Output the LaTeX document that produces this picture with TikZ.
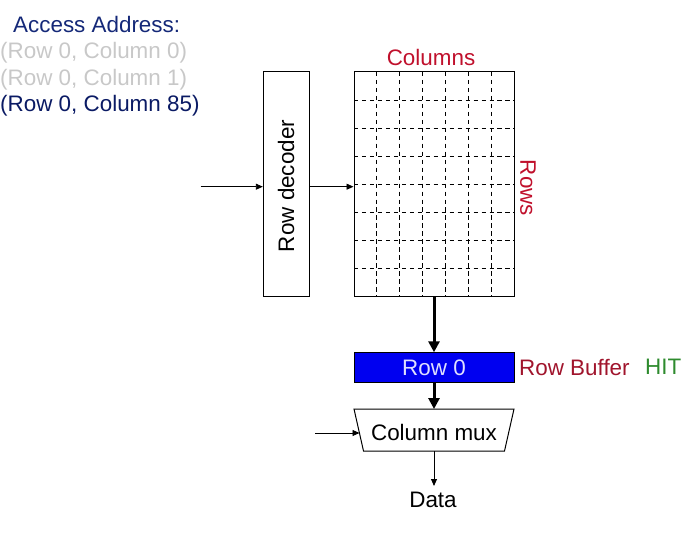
\documentclass[tikz,border=0pt]{standalone}
\usepackage{fontspec}
\setmainfont{Liberation Sans}
\usetikzlibrary{arrows.meta}
\definecolor{navy}{HTML}{142878}
\definecolor{navyd}{HTML}{0A1A64}
\definecolor{greyt}{HTML}{C8C8C8}
\definecolor{redt}{HTML}{C0102C}
\definecolor{redd}{HTML}{A0142C}
\definecolor{greent}{HTML}{2E8B2E}
\definecolor{bufblue}{HTML}{0000F0}
\tikzset{
  lbl/.style={inner sep=0pt, font=\fontsize{22.5}{26}\selectfont},
  box/.style={draw=black, line width=1pt, inner sep=0pt},
  thin/.style={-{Triangle[length=7pt,width=6pt]}, line width=0.9pt},
  thick/.style={-{Triangle[length=11pt,width=11pt]}, line width=3pt},
  griddash/.style={line width=0.9pt, dash pattern=on 4.5pt off 3.5pt},
}
\begin{document}
\begin{tikzpicture}[x=1bp,y=-1bp]
\useasboundingbox (0,0) rectangle (700,533);
% address text
\node[lbl, text=navy, anchor=base west] (t0) at (13,32.5) {Access Address:};
\node[lbl, text=greyt, anchor=base west] (t1) at (0,59) {(Row 0, Column 0)};
\node[lbl, text=greyt, anchor=base west] (t2) at (0,85.5) {(Row 0, Column 1)};
\node[lbl, text=navyd, anchor=base west] (t3) at (0,111.5) {(Row 0, Column 85)};
% row decoder
\node[box, minimum width=46bp, minimum height=224bp] (dec) at (286.3,184) {};
\node[lbl, rotate=90] (dect) at (286,186) {Row decoder};
% grid
\node[box, minimum width=160bp, minimum height=224bp] (grid) at (434,184) {};
\foreach \k in {1,...,6} {
  \draw[griddash] (354+160*\k/7,72) -- (354+160*\k/7,296);
}
\foreach \k in {1,...,7} {
  \draw[griddash] (354,72+224*\k/8) -- (514,72+224*\k/8);
}
\node[lbl, text=redt] (cols) at (431,57) {Columns};
\node[lbl, text=redt, rotate=-90] (rows) at (528,188) {Rows};
% input arrows
\coordinate (in1) at (200.5,186.7);
\draw[thin] (in1) -- (in1 -| dec.west);
\draw[thin] (dec.east |- in1) -- (in1 -| grid.west);
% row buffer
\node[box, fill=bufblue, minimum width=160bp, minimum height=29.5bp] (buf) at (434,367.5) {};
\node[lbl, text=white!88!blue] (buft) at (434,368) {Row 0};
\node[lbl, text=redd, anchor=west] (rb) at (519,367) {Row Buffer};
\node[lbl, text=greent, anchor=west] (hit) at (645,367) {HIT};
\draw[thick] (grid.south) -- (buf.north);
% column mux
\draw[line width=1pt] (354,409) -- (514,409) -- (504.5,451) -- (363.5,451) -- cycle;
\coordinate (muxtop) at (434,409);
\coordinate (muxbot) at (434,451);
\coordinate (muxleft) at (359.5,433);
\node[lbl] (mux) at (434,432) {Column mux};
\draw[thick] (buf.south) -- (muxtop);
\coordinate (in2) at (315,433);
\draw[thin] (in2) -- (muxleft);
\node[lbl] (data) at (433,500) {Data};
\draw[thin] (muxbot) -- (434,486);
\end{tikzpicture}
\end{document}
